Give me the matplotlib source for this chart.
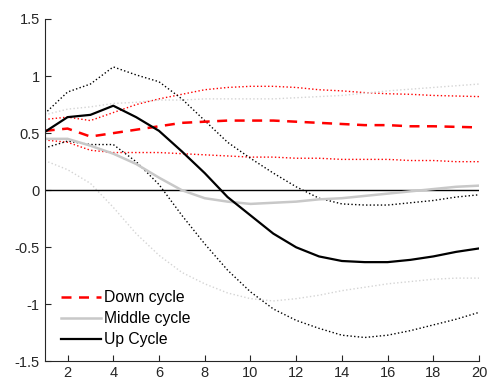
import numpy as np
import matplotlib
matplotlib.use("Agg")
import matplotlib.pyplot as plt

plt.rcParams['font.family'] = ['Liberation Sans', 'DejaVu Sans']
plt.rcParams['axes.unicode_minus'] = False

# horizon
h = np.arange(1, 21)

# point estimates
down = [0.52, 0.54, 0.47, 0.50, 0.53, 0.56, 0.59, 0.60, 0.61, 0.61,
        0.61, 0.60, 0.59, 0.58, 0.57, 0.57, 0.56, 0.56, 0.555, 0.55]
middle = [0.45, 0.45, 0.39, 0.32, 0.23, 0.11, 0.0, -0.07, -0.10, -0.12,
          -0.11, -0.10, -0.08, -0.07, -0.05, -0.03, -0.01, 0.01, 0.03, 0.04]
up = [0.51, 0.64, 0.66, 0.74, 0.64, 0.52, 0.34, 0.15, -0.06, -0.22,
      -0.38, -0.50, -0.58, -0.62, -0.63, -0.63, -0.61, -0.58, -0.54, -0.51]

# confidence bands
down_hi = [0.62, 0.64, 0.61, 0.68, 0.75, 0.80, 0.84, 0.88, 0.90, 0.91,
           0.91, 0.90, 0.88, 0.87, 0.855, 0.845, 0.84, 0.83, 0.825, 0.82]
down_lo = [0.44, 0.42, 0.35, 0.33, 0.33, 0.33, 0.32, 0.31, 0.30, 0.29,
           0.29, 0.28, 0.28, 0.27, 0.27, 0.27, 0.26, 0.26, 0.25, 0.25]
mid_hi = [0.66, 0.71, 0.73, 0.76, 0.77, 0.79, 0.79, 0.80, 0.80, 0.80,
          0.80, 0.81, 0.82, 0.83, 0.85, 0.87, 0.885, 0.90, 0.915, 0.93]
mid_lo = [0.26, 0.18, 0.06, -0.15, -0.38, -0.57, -0.72, -0.82, -0.90, -0.95,
          -0.97, -0.95, -0.92, -0.88, -0.85, -0.82, -0.80, -0.78, -0.77, -0.77]
up_hi = [0.67, 0.86, 0.93, 1.08, 1.01, 0.95, 0.80, 0.61, 0.42, 0.28,
         0.15, 0.03, -0.07, -0.12, -0.13, -0.13, -0.11, -0.09, -0.06, -0.04]
up_lo = [0.37, 0.43, 0.40, 0.40, 0.25, 0.05, -0.22, -0.47, -0.70, -0.89,
         -1.04, -1.14, -1.21, -1.27, -1.29, -1.27, -1.23, -1.18, -1.13, -1.07]

fig = plt.figure(figsize=(4.89, 3.87), dpi=100)
ax = fig.add_axes([0.0914, 0.066, 0.8882, 0.885])

ax.plot(h, down_hi, ':', color='red', lw=1.0)
ax.plot(h, down_lo, ':', color='red', lw=1.0)
ax.plot(h, mid_hi, ':', color='#d4d4d4', lw=1.0)
ax.plot(h, mid_lo, ':', color='#d4d4d4', lw=1.0)
ax.plot(h, up_hi, ':', color='black', lw=1.0)
ax.plot(h, up_lo, ':', color='black', lw=1.0)

ax.axhline(0, color='black', lw=1.0)

l1, = ax.plot(h, down, '--', color='red', lw=1.8, dashes=(4, 3))
l2, = ax.plot(h, middle, '-', color='#c8c8c8', lw=1.8)
l3, = ax.plot(h, up, '-', color='black', lw=1.6)

ax.legend([l1, l2, l3], ['Down cycle', 'Middle cycle', 'Up Cycle'],
          loc='lower left', bbox_to_anchor=(0.0115, 0.01), frameon=False,
          fontsize=11.3, handlelength=2.55, handletextpad=0.2,
          labelspacing=0.38, borderaxespad=0.3)

ax.set_xlim(1, 20)
ax.set_ylim(-1.5, 1.5)
ax.set_xticks(np.arange(2, 21, 2))
ax.set_yticks([-1.5, -1, -0.5, 0, 0.5, 1, 1.5])
ax.set_yticklabels(['-1.5', '-1', '-0.5', '0', '0.5', '1', '1.5'])
ax.tick_params(direction='in', length=4, labelsize=10.5, colors='#262626')
for s in ['top', 'right']:
    ax.spines[s].set_visible(False)
for s in ['left', 'bottom']:
    ax.spines[s].set_color('#262626')
    ax.spines[s].set_linewidth(0.8)

fig.savefig('out.png', dpi=100)
